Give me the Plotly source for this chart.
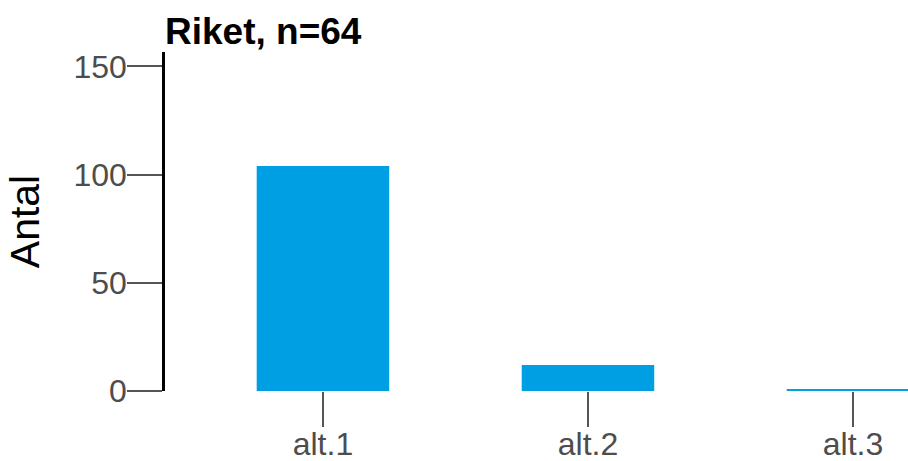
import plotly.graph_objects as go

categories = ["alt.1", "alt.2", "alt.3"]
values = [104, 12, 0.5]
y_ticks = [0, 50, 100, 150]

W, H = 908, 461
fig = go.Figure(go.Bar(x=categories, y=values, marker_color="#009FE3", width=0.5,
                       marker_line_width=0))

fig.update_layout(
    width=W, height=H,
    margin=dict(l=165, r=0, t=52, b=69.5, autoexpand=False),
    plot_bgcolor="white", paper_bgcolor="white",
    font=dict(family="Liberation Sans, Arial, sans-serif"),
    showlegend=False,
    title=dict(text="<b>Riket, n=64</b>", font=dict(size=37, color="black"),
               x=0, xref="paper", xanchor="left",
               y=1 - 31 / H, yref="container", yanchor="middle"),
)
fig.update_xaxes(range=[-0.596, (908 - 323) / 265], showline=False, showgrid=False,
                 zeroline=False, ticks="outside", ticklen=35, tickwidth=1.5,
                 tickcolor="#555555", tickfont=dict(size=32, color="#4D4D4D"),
                 automargin=False, ticklabelstandoff=-10)
fig.update_yaxes(range=[0, 156.7], tickvals=y_ticks, showline=True, linecolor="black",
                 linewidth=2.5, showgrid=False, zeroline=False, ticks="outside",
                 ticklen=35, tickwidth=1.5, tickcolor="#555555",
                 tickfont=dict(size=32, color="#4D4D4D"), automargin=False,
                 ticklabelstandoff=-6,
                 title=dict(text="Antal", font=dict(size=41, color="black"), standoff=22))
fig.write_html("out.html", config={"displayModeBar": False},
               post_script="document.body.style.margin='0';")
